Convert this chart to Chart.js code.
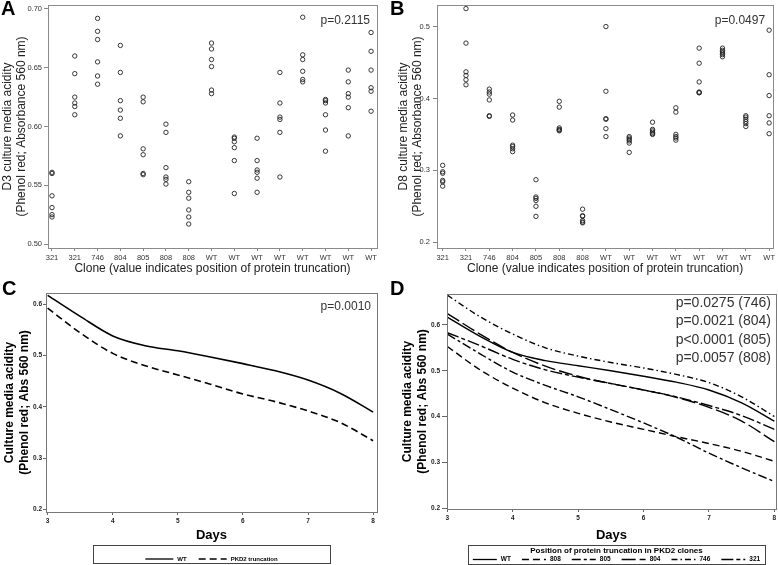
<!DOCTYPE html>
<html lang="en">
<head>
<meta charset="UTF-8">
<title>PKD2 clones - culture media acidity</title>
<script src="https://cdn.jsdelivr.net/npm/chart.js@4"></script>
<style>
  html, body { margin: 0; padding: 0; background: #fff; }
  #wrap { position: relative; width: 778px; height: 565px; }
  #wrap canvas { position: absolute; }
</style>
</head>
<body>
<div id="wrap">
  <canvas id="chartA" width="388" height="280" style="left:0;top:0"></canvas>
  <canvas id="chartB" width="390" height="280" style="left:388px;top:0"></canvas>
  <canvas id="chartC" width="388" height="285" style="left:0;top:280px"></canvas>
  <canvas id="chartD" width="390" height="285" style="left:388px;top:280px"></canvas>
</div>

<script>
// clones on the x axis of panels A and B
const clones = ['321', '321', '746', '804', '805', '808', '808', 'WT', 'WT', 'WT', 'WT', 'WT', 'WT', 'WT', 'WT'];

// day 3 absorbance, one list per clone
const d3Acidity = [
  [0.561, 0.560, 0.541, 0.531, 0.525, 0.523],
  [0.660, 0.645, 0.625, 0.620, 0.617, 0.610],
  [0.692, 0.681, 0.674, 0.655, 0.643, 0.636],
  [0.669, 0.646, 0.622, 0.614, 0.607, 0.592],
  [0.625, 0.621, 0.581, 0.576, 0.560, 0.559],
  [0.602, 0.595, 0.565, 0.557, 0.555, 0.551],
  [0.553, 0.544, 0.539, 0.529, 0.523, 0.517],
  [0.671, 0.666, 0.657, 0.651, 0.631, 0.628],
  [0.591, 0.590, 0.587, 0.582, 0.571, 0.543],
  [0.590, 0.571, 0.563, 0.561, 0.556, 0.544],
  [0.646, 0.620, 0.608, 0.606, 0.595, 0.557],
  [0.693, 0.661, 0.657, 0.647, 0.640, 0.638],
  [0.623, 0.622, 0.620, 0.610, 0.597, 0.579],
  [0.648, 0.638, 0.628, 0.625, 0.616, 0.592],
  [0.680, 0.664, 0.648, 0.633, 0.630, 0.613]
];

// day 8 absorbance, one list per clone
const d8Acidity = [
  [0.307, 0.298, 0.296, 0.286, 0.284, 0.278],
  [0.525, 0.477, 0.437, 0.432, 0.426, 0.419],
  [0.413, 0.409, 0.406, 0.398, 0.376, 0.375],
  [0.377, 0.370, 0.335, 0.333, 0.330, 0.326],
  [0.287, 0.263, 0.261, 0.258, 0.250, 0.236],
  [0.396, 0.388, 0.359, 0.357, 0.356, 0.355],
  [0.246, 0.237, 0.236, 0.230, 0.228, 0.227],
  [0.500, 0.410, 0.372, 0.371, 0.358, 0.347],
  [0.347, 0.345, 0.343, 0.341, 0.338, 0.325],
  [0.367, 0.357, 0.355, 0.353, 0.351, 0.350],
  [0.387, 0.381, 0.350, 0.347, 0.345, 0.342],
  [0.470, 0.449, 0.423, 0.409, 0.408, 0.408],
  [0.470, 0.467, 0.465, 0.463, 0.461, 0.458],
  [0.376, 0.374, 0.371, 0.368, 0.365, 0.361],
  [0.495, 0.433, 0.404, 0.376, 0.366, 0.351]
];

// fitted curves, panels C and D
const days = [3, 3.5, 4, 4.5, 5, 5.5, 6, 6.5, 7, 7.5, 8];
const cWT   = [0.617, 0.576, 0.538, 0.519, 0.509, 0.497, 0.484, 0.470, 0.452, 0.426, 0.390];
const cPKD2 = [0.592, 0.544, 0.504, 0.480, 0.462, 0.444, 0.425, 0.410, 0.392, 0.369, 0.334];

const dWT  = [0.617, 0.575, 0.540, 0.522, 0.511, 0.500, 0.488, 0.475, 0.458, 0.430, 0.390];
const d808 = [0.553, 0.502, 0.462, 0.430, 0.407, 0.388, 0.372, 0.356, 0.341, 0.324, 0.302];
const d805 = [0.580, 0.537, 0.497, 0.468, 0.443, 0.415, 0.386, 0.355, 0.320, 0.288, 0.258];
const d804 = [0.625, 0.580, 0.540, 0.510, 0.488, 0.472, 0.458, 0.442, 0.420, 0.390, 0.345];
const d746 = [0.665, 0.618, 0.580, 0.550, 0.532, 0.518, 0.506, 0.492, 0.474, 0.443, 0.400];
const d321 = [0.583, 0.555, 0.525, 0.502, 0.486, 0.472, 0.458, 0.443, 0.424, 0.402, 0.372];

const yTicksA = [0.50, 0.55, 0.60, 0.65, 0.70];
const yTicksB = [0.2, 0.3, 0.4, 0.5];
const yTicksCD = [0.2, 0.3, 0.4, 0.5, 0.6];
const dayTicks = [3, 4, 5, 6, 7, 8];

const FONT = '"Liberation Sans", Arial, Helvetica, sans-serif';
Chart.defaults.font.family = FONT;
Chart.defaults.color = '#333';
Chart.defaults.animation = false;

// frame, panel letter, p-values and the boxed legend
const decor = {
  id: 'decor',
  afterDraw(chart, args, o) {
    const ctx = chart.ctx, a = chart.chartArea;
    ctx.save();
    ctx.strokeStyle = o.frame;
    ctx.lineWidth = 1;
    const l = Math.round(a.left), t = Math.round(a.top);
    ctx.strokeRect(l + 0.5, t + 0.5, Math.round(a.right) - l, Math.round(a.bottom) - t);

    ctx.fillStyle = '#000';
    ctx.font = 'bold 20px ' + FONT;
    ctx.textAlign = 'left';
    ctx.textBaseline = 'alphabetic';
    ctx.fillText(o.letter, o.letterX, 15);

    ctx.font = o.pSize + 'px ' + FONT;
    ctx.fillStyle = '#333';
    ctx.textAlign = 'right';
    ctx.textBaseline = 'middle';
    o.pLines.forEach((s, i) => ctx.fillText(s, a.right - o.pRight, a.top + o.pTop + i * (o.pStep || 0)));

    if (o.legend) drawLegend(chart, o.legend);
    ctx.restore();
  }
};

function drawLegend(chart, L) {
  const ctx = chart.ctx, a = chart.chartArea;
  const cx = (a.left + a.right) / 2 + (L.shift || 0);
  const bx = Math.round(cx - L.width / 2), by = Math.round(chart.height - L.height - L.bottom);
  ctx.strokeStyle = '#444';
  ctx.lineWidth = 1;
  ctx.strokeRect(bx + 0.5, by + 0.5, L.width, L.height);
  ctx.fillStyle = '#000';
  ctx.textBaseline = 'middle';
  if (L.title) {
    ctx.font = L.titleFont + ' ' + FONT;
    ctx.textAlign = 'center';
    ctx.fillText(L.title, cx, by + L.titleY);
  }
  ctx.font = L.font + ' ' + FONT;
  ctx.textAlign = 'left';
  const items = chart.data.datasets.map(ds => ({
    label: ds.label, dash: ds.borderDash || [], w: ctx.measureText(ds.label).width
  }));
  const total = items.reduce((s, it) => s + L.lineLen + L.gap + it.w, 0) + L.spacing * (items.length - 1);
  let x = cx - total / 2;
  const y = by + L.itemY;
  items.forEach(it => {
    ctx.strokeStyle = '#000';
    ctx.lineWidth = 1.3;
    ctx.setLineDash(it.dash);
    ctx.beginPath();
    ctx.moveTo(x, y);
    ctx.lineTo(x + L.lineLen, y);
    ctx.stroke();
    ctx.setLineDash([]);
    ctx.fillText(it.label, x + L.lineLen + L.gap, y);
    x += L.lineLen + L.gap + it.w + L.spacing;
  });
}

function fixWidth(w) {
  return s => { s.width = w; s.paddingTop = 0; s.paddingBottom = 0; };
}
function fixHeight(h) {
  return s => { s.height = h; s.paddingLeft = 0; s.paddingRight = 0; };
}
function setTicks(list) {
  return s => { s.ticks = list.map(v => ({ value: v })); };
}

function clonePoints(groups) {
  const pts = [];
  groups.forEach((vals, i) => vals.forEach(v => pts.push({ x: i, y: v })));
  return pts;
}
function curve(values) {
  return days.map((d, i) => ({ x: d, y: values[i] }));
}

function scatterChart(id, groups, cfg) {
  new Chart(document.getElementById(id), {
    type: 'scatter',
    data: {
      datasets: [{
        data: clonePoints(groups),
        radius: 2.2,
        borderWidth: 0.9,
        borderColor: '#222',
        backgroundColor: 'rgba(0,0,0,0)'
      }]
    },
    options: {
      responsive: false,
      events: [],
      layout: { padding: cfg.padding },
      scales: {
        x: {
          min: cfg.xMin, max: cfg.xMax,
          afterFit: fixHeight(32),
          afterBuildTicks: setTicks(clones.map((c, i) => i)),
          ticks: { font: { size: 7.5 }, padding: 2, autoSkip: false, maxRotation: 0, color: '#333',
                   callback: v => clones[v] },
          grid: { drawOnChartArea: false, tickLength: 3, color: '#888' },
          border: { display: false },
          title: { display: true, text: 'Clone (value indicates position of protein truncation)',
                   font: { size: 12 }, padding: { top: 0, bottom: 4 }, color: '#222' }
        },
        y: {
          min: cfg.yMin, max: cfg.yMax,
          afterFit: fixWidth(cfg.yWidth),
          afterBuildTicks: setTicks(cfg.yTicks),
          ticks: { font: { size: 7.5 }, padding: cfg.tickPad, color: '#333',
                   callback: v => v.toFixed(cfg.decimals) },
          grid: { drawOnChartArea: false, tickLength: 4, color: '#888' },
          border: { display: false },
          title: { display: true, text: cfg.yTitle, font: { size: 12, lineHeight: 1.2 },
                   padding: { top: cfg.titlePad, bottom: 0 }, color: '#222' }
        }
      },
      plugins: {
        legend: { display: false },
        tooltip: { enabled: false },
        decor: { frame: '#8a8a8a', letter: cfg.letter, letterX: cfg.letterX,
                 pSize: 12, pRight: cfg.pRight, pTop: cfg.pTop, pLines: cfg.pLines }
      }
    },
    plugins: [decor]
  });
}

function curveChart(id, datasets, cfg) {
  new Chart(document.getElementById(id), {
    type: 'line',
    data: {
      datasets: datasets.map(d => ({
        label: d.label,
        data: curve(d.values),
        borderColor: '#000',
        borderWidth: cfg.lineWidth,
        borderDash: d.dash,
        pointRadius: 0,
        cubicInterpolationMode: 'monotone',
        fill: false
      }))
    },
    options: {
      responsive: false,
      events: [],
      layout: { padding: cfg.padding },
      scales: {
        x: {
          type: 'linear',
          min: cfg.xMin, max: cfg.xMax,
          afterFit: fixHeight(cfg.xHeight),
          afterBuildTicks: setTicks(dayTicks),
          ticks: { font: { size: 6.5, weight: 'bold' }, padding: 2, color: '#222', callback: v => String(v) },
          grid: { drawOnChartArea: false, tickLength: 3, color: '#666' },
          border: { display: false },
          title: { display: true, text: 'Days', font: { size: 13, weight: 'bold', lineHeight: 1.2 },
                   padding: { top: 0, bottom: cfg.daysPad }, color: '#000' }
        },
        y: {
          min: cfg.yMin, max: cfg.yMax,
          afterFit: fixWidth(cfg.yWidth),
          afterBuildTicks: setTicks(yTicksCD),
          ticks: { font: { size: 6.5, weight: 'bold' }, padding: cfg.tickPad, color: '#222',
                   callback: v => v.toFixed(1) },
          grid: { drawOnChartArea: false, tickLength: cfg.tickLen, color: '#666' },
          border: { display: false },
          title: { display: true, text: ['Culture media acidity', '(Phenol red; Abs 560 nm)'],
                   font: { size: 12, weight: 'bold', lineHeight: 1.25 },
                   padding: { top: cfg.titlePad, bottom: 0 }, color: '#000' }
        }
      },
      plugins: {
        legend: { display: false },
        tooltip: { enabled: false },
        decor: { frame: '#777', letter: cfg.letter, letterX: cfg.letterX,
                 pSize: cfg.pSize, pRight: cfg.pRight, pTop: cfg.pTop, pStep: cfg.pStep,
                 pLines: cfg.pLines, legend: cfg.legend }
      }
    },
    plugins: [decor]
  });
}

scatterChart('chartA', d3Acidity, {
  padding: { left: 0, right: 11, top: 5, bottom: 0 },
  xMin: -0.175, xMax: 14.26, yMin: 0.4966, yMax: 0.7034,
  yWidth: 48, yTicks: yTicksA, decimals: 2, tickPad: 2, titlePad: 0,
  yTitle: ['D3 culture media acidity', '(Phenol red; Absorbance 560 nm)'],
  letter: 'A', letterX: 1, pRight: 7, pTop: 16, pLines: ['p=0.2115']
});

scatterChart('chartB', d8Acidity, {
  padding: { left: 0, right: 3, top: 5, bottom: 0 },
  xMin: -0.243, xMax: 14.17, yMin: 0.192, yMax: 0.530,
  yWidth: 49, yTicks: yTicksB, decimals: 1, tickPad: 3, titlePad: 8,
  yTitle: ['D8 culture media acidity', '(Phenol red; Absorbance 560 nm)'],
  letter: 'B', letterX: 2, pRight: 8, pTop: 16, pLines: ['p=0.0497']
});

curveChart('chartC', [
  { label: 'WT', values: cWT, dash: [] },
  { label: 'PKD2 truncation', values: cPKD2, dash: [7, 4] }
], {
  padding: { left: 0, right: 11, top: 13, bottom: 20 },
  xMin: 2.975, xMax: 8.06, yMin: 0.1953, yMax: 0.6215,
  xHeight: 33, daysPad: 2, yWidth: 46, tickPad: 1, tickLen: 3, titlePad: 2.5, lineWidth: 1.6,
  letter: 'C', letterX: 2, pSize: 12, pRight: 6, pTop: 13.4, pLines: ['p=0.0010'],
  legend: { width: 237, height: 18, bottom: 1.7, itemY: 14, lineLen: 28, gap: 4, spacing: 12, font: 'bold 6px' }
});

curveChart('chartD', [
  { label: 'WT', values: dWT, dash: [] },
  { label: '808', values: d808, dash: [7, 4] },
  { label: '805', values: d805, dash: [9, 3, 3, 3] },
  { label: '804', values: d804, dash: [14, 4] },
  { label: '746', values: d746, dash: [6, 3, 1.5, 3] },
  { label: '321', values: d321, dash: [12, 3, 4, 3] }
], {
  padding: { left: 0, right: 2, top: 14, bottom: 21 },
  xMin: 2.995, xMax: 8.025, yMin: 0.198, yMax: 0.6676,
  xHeight: 35, daysPad: 1.2, yWidth: 59, tickPad: 2, tickLen: 5, titlePad: 12.5, lineWidth: 1.4,
  letter: 'D', letterX: 2, pSize: 14, pRight: 5, pTop: 9.3, pStep: 18.3,
  pLines: ['p=0.0275 (746)', 'p=0.0021 (804)', 'p<0.0001 (805)', 'p=0.0057 (808)'],
  legend: { width: 297, height: 19, bottom: 1, shift: 5, title: 'Position of protein truncation in PKD2 clones',
            titleFont: 'bold 8px', titleY: 6, itemY: 14.5, lineLen: 24, gap: 4, spacing: 11, font: 'bold 6.5px' }
});
</script>
</body>
</html>
